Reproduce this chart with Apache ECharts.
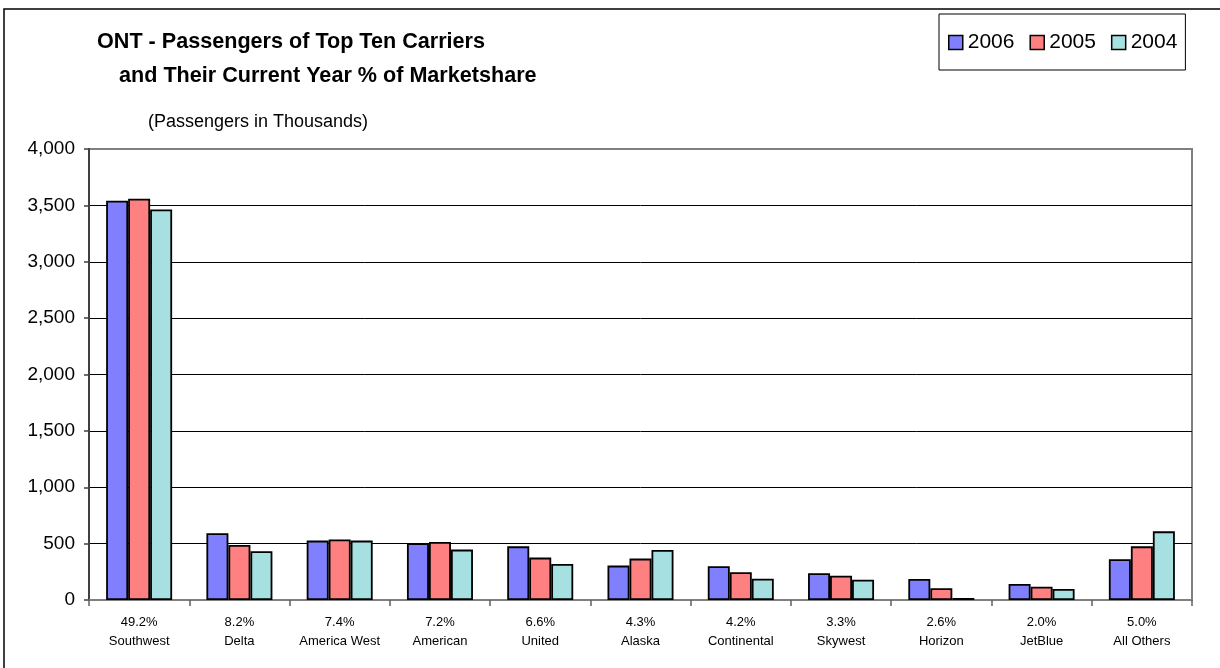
<!DOCTYPE html>
<html>
<head>
<meta charset="utf-8">
<script src="https://cdn.jsdelivr.net/npm/echarts@6/dist/echarts.min.js"></script>
<style>
html,body{margin:0;padding:0;background:#fff;}
#chart{width:1220px;height:668px;}
</style>
</head>
<body>
<div id="chart"></div>
<script>
const carriers = ['Southwest','Delta','America West','American','United','Alaska','Continental','Skywest','Horizon','JetBlue','All Others'];
const shares = ['49.2%','8.2%','7.4%','7.2%','6.6%','4.3%','4.2%','3.3%','2.6%','2.0%','5.0%'];
const years = ['2006','2005','2004'];
const values2006 = [3541, 592, 527, 503, 476, 305, 299, 237, 186, 142, 361];
const values2005 = [3559, 488, 536, 515, 376, 367, 246, 216, 104, 118, 476];
const values2004 = [3464, 432, 527, 447, 320, 444, 189, 180, 18, 98, 609];
const yTicks = [0, 500, 1000, 1500, 2000, 2500, 3000, 3500, 4000];

const colors = ['#8080FF', '#FF8080', '#A6E0E0'];
const seriesValues = [values2006, values2005, values2004];
const font = 'Liberation Sans, Arial, sans-serif';

const chart = echarts.init(document.getElementById('chart'), null, {renderer: 'canvas'});
chart.setOption({
  animation: false,
  backgroundColor: '#fff',
  textStyle: {fontFamily: font},
  graphic: [{
    type: 'rect', z: 100, silent: true,
    shape: {x: 4, y: 9, width: 1400, height: 900},
    style: {fill: 'none', stroke: '#000', lineWidth: 1.5}
  }],
  title: [
    {text: 'ONT - Passengers of Top Ten Carriers', left: 97, top: 31, padding: 0,
     textStyle: {fontFamily: font, fontSize: 21.6, fontWeight: 'bold', color: '#000'}},
    {text: 'and Their Current Year % of Marketshare', left: 119, top: 65, padding: 0,
     textStyle: {fontFamily: font, fontSize: 21.6, fontWeight: 'bold', color: '#000'}},
    {text: '(Passengers in Thousands)', left: 148, top: 113, padding: 0,
     textStyle: {fontFamily: font, fontSize: 18, fontWeight: 'normal', color: '#000'}}
  ],
  legend: {
    left: 939, top: 14,
    padding: [18, 8, 17, 9],
    borderColor: '#000', borderWidth: 1,
    icon: 'rect',
    itemWidth: 14, itemHeight: 14, itemGap: 15,
    textStyle: {fontFamily: font, fontSize: 21, color: '#000'},
    itemStyle: {borderColor: '#000', borderWidth: 1.5},
    data: years
  },
  grid: {
    left: 89, right: 28, top: 149, bottom: 68,
    show: true, borderColor: '#808080', borderWidth: 2, backgroundColor: '#fff'
  },
  xAxis: {
    type: 'category',
    data: carriers,
    axisLine: {lineStyle: {color: '#808080', width: 2}},
    axisTick: {show: true, inside: false, length: 6, lineStyle: {color: '#606060', width: 1.5}},
    axisLabel: {
      interval: 0, margin: 13, fontFamily: font, fontSize: 13, color: '#000', lineHeight: 19,
      formatter: function (v, i) { return shares[i] + '\n' + v; }
    }
  },
  yAxis: {
    type: 'value', min: 0, max: 4000, interval: 500,
    axisLine: {show: true, lineStyle: {color: '#404040', width: 2}},
    axisTick: {show: true, inside: false, length: 5, lineStyle: {color: '#404040', width: 1.5}},
    splitLine: {show: true, showMaxLine: false, lineStyle: {color: '#000', width: 1}},
    axisLabel: {
      fontFamily: font, fontSize: 19, color: '#000', margin: 14,
      formatter: function (v) { return yTicks.indexOf(v) >= 0 ? v.toLocaleString('en-US') : ''; }
    }
  },
  series: years.map(function (y, k) {
    return {
      name: y, type: 'bar', data: seriesValues[k],
      barWidth: 22, barGap: '0%',
      itemStyle: {color: colors[k], borderColor: '#000', borderWidth: 1.8}
    };
  })
});
</script>
</body>
</html>
